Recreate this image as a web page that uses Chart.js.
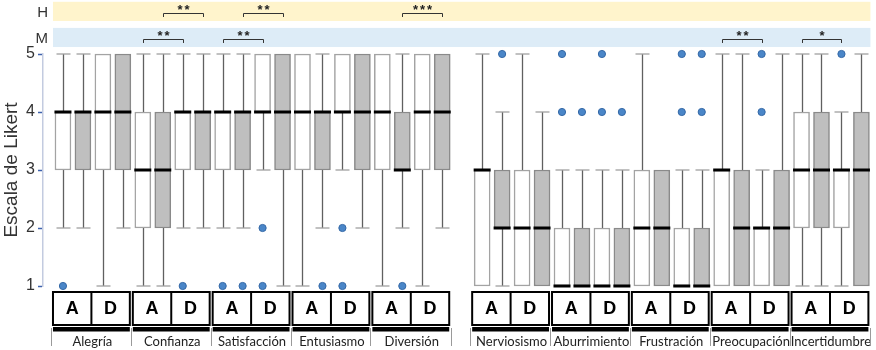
<!DOCTYPE html>
<html>
<head>
<meta charset="utf-8">
<script src="https://cdn.jsdelivr.net/npm/chart.js@4/dist/chart.umd.min.js"></script>
<style>
  html, body { margin: 0; padding: 0; background: #fff; }
  #wrap { width: 876px; height: 350px; }
</style>
</head>
<body>
<div id="wrap"><canvas id="c" width="876" height="350"></canvas></div>
<script>
// Emotions, each with four boxes: A (M, H) then D (M, H); white = M, grey = H
const emotions = ['Alegría', 'Confianza', 'Satisfacción', 'Entusiasmo', 'Diversión',
                  'Nerviosismo', 'Aburrimiento', 'Frustración', 'Preocupación', 'Incertidumbre'];
const moments = ['A', 'D'];
const bandLabels = ['H', 'M'];
const yTicks = [1, 2, 3, 4, 5];

// Box statistics, 40 boxes in drawing order
const q1 = [3,3,3,3, 2,2,3,3, 3,3,4,3, 3,3,4,3, 3,3,3,3,
            1,2,1,1, 1,1,1,1, 1,1,1,1, 1,1,1,1, 2,2,2,1];
const median = [4,4,4,4, 3,3,4,4, 4,4,4,4, 4,4,4,4, 4,3,4,4,
                3,2,2,2, 1,1,1,1, 2,2,1,1, 3,2,2,2, 3,3,3,3];
const q3 = [4,4,5,5, 4,4,4,4, 4,4,5,5, 5,4,5,5, 5,4,5,5,
            3,3,3,3, 2,2,2,2, 3,3,2,2, 3,3,2,3, 4,4,3,4];
const whiskerLow = [2,2,1,2, 1,1,2,2, 2,2,3,1, 1,2,3,2, 1,2,1,2,
                    1,1,1,1, 1,1,1,1, 1,1,1,1, 1,1,1,1, 1,1,1,1];
const whiskerHigh = [5,5,5,5, 5,5,5,5, 5,5,5,5, 5,5,5,5, 5,5,5,5,
                     5,4,5,4, 3,3,3,3, 5,3,3,3, 5,5,3,5, 5,5,4,5];
// Outliers as [box, value]
const outliers = [[0,1],[6,1],[8,1],[9,1],[10,2],[10,1],[13,1],[14,2],[14,1],[17,1],
                  [21,5],[24,4],[24,5],[25,4],[26,4],[26,5],[27,4],
                  [30,4],[30,5],[31,4],[31,5],[34,4],[34,5],[38,5]];
// Significance brackets: [fromBox, toBox, stars]
const sigH = [[5,7,'**'],[9,11,'**'],[17,19,'***']];
const sigM = [[4,6,'**'],[8,10,'**'],[32,34,'**'],[36,38,'*']];

// Slot on the x scale: one empty slot separates positive and negative emotions
const slotOf = i => (i < 20 ? i : i + 1);

const boxes = q1.map((v, i) => ({ x: slotOf(i), y: [q1[i], q3[i]] }));
const whiteBoxes = boxes.filter((_, i) => i % 2 === 0);
const greyBoxes = boxes.filter((_, i) => i % 2 === 1);
const outlierPts = outliers.map(([b, v]) => ({ x: slotOf(b), y: v }));

// value ranges (y units) for the significance bands above the plot
const bandH = [5.57, 5.90];
const bandM = [5.12, 5.45];

const boxPlot = {
  id: 'boxPlot',
  beforeDatasetsDraw(chart) {
    const { ctx, scales: { x, y } } = chart;
    ctx.save();
    q1.forEach((_, i) => {
      const px = Math.round(x.getPixelForValue(slotOf(i))) + 0.5;
      const seg = (from, to) => {
        ctx.strokeStyle = '#606060';
        ctx.lineWidth = 1.3;
        ctx.beginPath();
        ctx.moveTo(px, y.getPixelForValue(from));
        ctx.lineTo(px, y.getPixelForValue(to));
        ctx.stroke();
        ctx.strokeStyle = '#a0a0a0';
        ctx.beginPath();
        ctx.moveTo(px - 7, y.getPixelForValue(to));
        ctx.lineTo(px + 7, y.getPixelForValue(to));
        ctx.stroke();
      };
      if (whiskerHigh[i] > q3[i]) seg(q3[i], whiskerHigh[i]);
      if (whiskerLow[i] < q1[i]) seg(q1[i], whiskerLow[i]);
    });
    ctx.restore();
  },
  afterDatasetsDraw(chart) {
    const { ctx, scales: { x, y } } = chart;
    ctx.save();
    ctx.strokeStyle = '#000';
    ctx.lineWidth = 3;
    median.forEach((m, i) => {
      const px = x.getPixelForValue(slotOf(i));
      const py = y.getPixelForValue(m);
      ctx.beginPath();
      ctx.moveTo(px - 8.5, py);
      ctx.lineTo(px + 8.5, py);
      ctx.stroke();
    });
    ctx.restore();
  },
  afterDraw(chart) {
    const { ctx, chartArea, scales: { x, y } } = chart;
    ctx.save();
    const xl = x.getPixelForValue(-0.5), xr = x.getPixelForValue(40.45);

    // bands with their letters
    [[bandH, '#fff4cc'], [bandM, '#ddecf7']].forEach(([b, col], k) => {
      const t = y.getPixelForValue(b[1]), bt = y.getPixelForValue(b[0]);
      ctx.fillStyle = col;
      ctx.fillRect(xl, t, xr - xl, bt - t);
      ctx.fillStyle = '#333';
      ctx.font = '15px "Liberation Sans", Arial, sans-serif';
      ctx.textAlign = 'right';
      ctx.textBaseline = 'middle';
      ctx.fillText(bandLabels[k], xl - 5, (t + bt) / 2 + 1);
    });

    // significance brackets
    const bracket = (list, lineV, legV, starV) => {
      list.forEach(([a, b, s]) => {
        const x1 = Math.round(x.getPixelForValue(slotOf(a))) + 0.5;
        const x2 = Math.round(x.getPixelForValue(slotOf(b))) + 0.5;
        const yl = Math.round(y.getPixelForValue(lineV)) + 0.5;
        const yg = y.getPixelForValue(legV);
        ctx.strokeStyle = '#333';
        ctx.lineWidth = 1;
        ctx.beginPath();
        ctx.moveTo(x1, yg); ctx.lineTo(x1, yl); ctx.lineTo(x2, yl); ctx.lineTo(x2, yg);
        ctx.stroke();
        ctx.fillStyle = '#222';
        ctx.font = 'bold 13px "Liberation Sans", Arial, sans-serif';
        ctx.textAlign = 'center';
        ctx.textBaseline = 'middle';
        ctx.letterSpacing = '2px';
        ctx.fillText(s, (x1 + x2) / 2 + 1, y.getPixelForValue(starV) + 2);
        ctx.letterSpacing = '0px';
      });
    };
    bracket(sigH, 5.707, 5.638, 5.79);
    bracket(sigM, 5.259, 5.19, 5.345);

    // A / D boxes and emotion names under the plot
    const top = chartArea.bottom + 6, bot = chartArea.bottom + 39;
    emotions.forEach((name, g) => {
      const s = slotOf(4 * g);
      const l = x.getPixelForValue(s - 0.5), r = x.getPixelForValue(s + 3.35);
      const mid = (l + r) / 2;
      ctx.strokeStyle = '#000';
      ctx.lineWidth = 2;
      ctx.strokeRect(l, top, r - l, bot - top);
      ctx.beginPath();
      ctx.moveTo(mid, top); ctx.lineTo(mid, bot);
      ctx.stroke();
      ctx.fillStyle = '#000';
      ctx.font = 'bold 18px "Liberation Sans", Arial, sans-serif';
      ctx.textAlign = 'center';
      ctx.textBaseline = 'middle';
      ctx.fillText(moments[0], (l + mid) / 2, (top + bot) / 2 + 1);
      ctx.fillText(moments[1], (mid + r) / 2, (top + bot) / 2 + 1);
      ctx.fillRect(l, bot + 2, r - l, 4.5);
      ctx.font = '13px Lato, "Liberation Sans", sans-serif';
      ctx.fillStyle = '#222';
      ctx.fillText(name, mid + 1, bot + 17);
      // thin separators
      ctx.strokeStyle = '#9a9a9a';
      ctx.lineWidth = 1;
      const sep = px => {
        ctx.beginPath();
        ctx.moveTo(px, bot + 3); ctx.lineTo(px, bot + 21);
        ctx.stroke();
      };
      sep(Math.round(l) - 1.5);
      if (g === 4 || g === 9) sep(Math.round(r) + 2.5);
    });
    ctx.restore();
  }
};

new Chart(document.getElementById('c'), {
  type: 'bar',
  data: {
    datasets: [
      { type: 'bar', label: 'M', data: whiteBoxes, backgroundColor: '#ffffff',
        borderColor: '#a3a3a3', borderWidth: 1.5, borderSkipped: false,
        barThickness: 16, grouped: false, clip: false, order: 2 },
      { type: 'bar', label: 'H', data: greyBoxes, backgroundColor: '#bfbfbf',
        borderColor: '#8a8a8a', borderWidth: 1.5, borderSkipped: false,
        barThickness: 16, grouped: false, clip: false, order: 2 },
      { type: 'scatter', label: 'atípicos', data: outlierPts, pointRadius: 3.6,
        pointHoverRadius: 3.6, backgroundColor: '#4a86c8', borderColor: '#3468a6',
        borderWidth: 1, clip: false, order: 1 }
    ]
  },
  options: {
    responsive: false,
    devicePixelRatio: 1,
    animation: false,
    layout: { padding: { top: 54, bottom: 64, left: 0, right: 3 } },
    plugins: { legend: { display: false }, tooltip: { enabled: false } },
    scales: {
      x: { type: 'linear', min: -1, max: 40.5, offset: false, display: false },
      y: {
        min: 1, max: 5,
        afterBuildTicks(s) { s.ticks = yTicks.map(v => ({ value: v })); },
        afterFit(s) { s.width = 43; },
        ticks: { color: '#333', padding: 3,
                 font: { size: 16, family: '"Liberation Sans", Arial, sans-serif' } },
        grid: { drawOnChartArea: false, tickLength: 5, tickColor: '#3f63ad',
                color: '#3f63ad', tickWidth: 1.5 },
        border: { color: '#c3cbe0', width: 1.5 },
        title: { display: true, text: 'Escala de Likert', color: '#333', padding: 0,
                 font: { size: 19, family: '"Liberation Sans", Arial, sans-serif' } }
      }
    }
  },
  plugins: [boxPlot]
});
</script>
</body>
</html>
